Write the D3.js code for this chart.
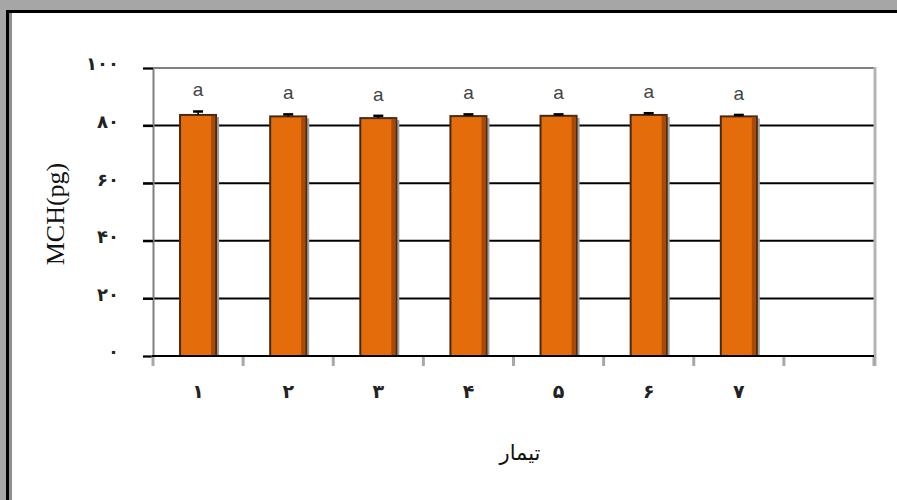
<!DOCTYPE html>
<html>
<head>
<meta charset="utf-8">
<script src="https://cdn.jsdelivr.net/npm/d3@7"></script>
<style>
  body { margin: 0; background: #a6a6a6; }
  svg { display: block; }
</style>
</head>
<body>
<script>
// treatments 1..7 (one empty slot at the end like the original)
const categories = ["۱", "۲", "۳", "۴", "۵", "۶", "۷"];
const values = [83.7, 83.2, 82.6, 83.3, 83.4, 83.7, 83.2];
const errors = [1.2, 0.7, 0.8, 0.6, 0.5, 0.6, 0.5];
const letters = ["a", "a", "a", "a", "a", "a", "a"];
const yTicks = [0, 20, 40, 60, 80, 100];

const W = 897, H = 500;
const margin = { left: 153, top: 68, right: 23, bottom: 144 };

const faDigits = "۰۱۲۳۴۵۶۷۸۹";
const toFa = n => String(n).replace(/\d/g, d => faDigits[+d]);

const svg = d3.select("body").append("svg")
    .attr("width", W)
    .attr("height", H);

// frame
svg.append("rect").attr("width", W).attr("height", H).attr("fill", "#a6a6a6");
svg.append("rect").attr("x", 6).attr("y", 10).attr("width", W).attr("height", H).attr("fill", "#000");
svg.append("rect").attr("x", 9).attr("y", 13).attr("width", W).attr("height", H).attr("fill", "#8f8f8f");
svg.append("rect").attr("x", 12).attr("y", 13).attr("width", W).attr("height", H).attr("fill", "#fff");

const x0 = margin.left, x1 = W - margin.right;
const y0 = H - margin.bottom, y1 = margin.top;

const slots = d3.range(categories.length + 1);
const x = d3.scaleBand()
    .domain(slots)
    .range([x0, x1])
    .paddingInner(0.6)
    .paddingOuter(0.3);
const step = x.step();

const y = d3.scaleLinear().domain([0, 100]).range([y0, y1]);

const g = svg.append("g");

// gridlines (black, with outside tick)
g.selectAll(".grid").data(yTicks.filter(t => t > 0 && t < 100))
  .join("line")
    .attr("x1", x0 - 10).attr("x2", x1)
    .attr("y1", d => y(d)).attr("y2", d => y(d))
    .attr("stroke", "#000").attr("stroke-width", 2);

// plot border
g.append("line").attr("x1", x0).attr("x2", x1).attr("y1", y1).attr("y2", y1)
    .attr("stroke", "#808080").attr("stroke-width", 2);
g.append("line").attr("x1", x1 + 1).attr("x2", x1 + 1).attr("y1", y1 - 1).attr("y2", y0 + 10)
    .attr("stroke", "#b5b5b5").attr("stroke-width", 3);

// y axis
const yAxis = d3.axisLeft(y).tickValues(yTicks).tickSize(10).tickPadding(24).tickFormat(toFa);
const ya = g.append("g").attr("transform", `translate(${x0},0)`).call(yAxis);
ya.select(".domain").attr("stroke", "#808080").attr("stroke-width", 2);
ya.selectAll(".tick line").attr("stroke", "#000").attr("stroke-width", 2);
ya.selectAll(".tick text")
    .attr("font-family", "DejaVu Sans")
    .attr("font-size", 18)
    .attr("font-weight", "bold")
    .attr("fill", "#222")
    .attr("dy", "0.1em");

// x category ticks at slot boundaries
const bounds = d3.range(slots.length + 1).map(i => x0 + i * step);
g.selectAll(".xt").data(bounds)
  .join("line")
    .attr("x1", d => d).attr("x2", d => d)
    .attr("y1", y0).attr("y2", y0 + 10)
    .attr("stroke", "#a8a8a8").attr("stroke-width", 3);

// bars: shadow + body
const bars = g.selectAll(".bar").data(values).join("g");
bars.append("rect")
    .attr("x", (d, i) => x(i) + 3)
    .attr("y", d => y(d) + 2)
    .attr("width", x.bandwidth())
    .attr("height", d => y0 - y(d) - 2)
    .attr("fill", "#a0a0a0");
bars.append("rect")
    .attr("x", (d, i) => x(i))
    .attr("y", d => y(d))
    .attr("width", x.bandwidth())
    .attr("height", d => y0 - y(d))
    .attr("fill", "#e46c0a")
    .attr("stroke", "#4a2a14")
    .attr("stroke-width", 2);
bars.append("rect")
    .attr("x", (d, i) => x(i) + x.bandwidth() - 5)
    .attr("y", d => y(d) + 1)
    .attr("width", 4)
    .attr("height", d => y0 - y(d) - 1)
    .attr("fill", "#a84a06");

// error bars
const cx = i => x(i) + x.bandwidth() / 2;
bars.append("line")
    .attr("x1", (d, i) => cx(i)).attr("x2", (d, i) => cx(i))
    .attr("y1", d => y(d)).attr("y2", (d, i) => y(d + errors[i]))
    .attr("stroke", "#000").attr("stroke-width", 1.5);
bars.append("line")
    .attr("x1", (d, i) => cx(i) - 5).attr("x2", (d, i) => cx(i) + 5)
    .attr("y1", (d, i) => y(d + errors[i])).attr("y2", (d, i) => y(d + errors[i]))
    .attr("stroke", "#000").attr("stroke-width", 2.5);

// significance letters
bars.append("text")
    .attr("x", (d, i) => cx(i))
    .attr("y", (d, i) => y(d + errors[i]) - 15)
    .attr("text-anchor", "middle")
    .attr("font-family", "Liberation Sans, Arial")
    .attr("font-size", 19)
    .attr("fill", "#444")
    .text((d, i) => letters[i]);

// x axis line
g.append("line").attr("x1", x0 - 1).attr("x2", x1).attr("y1", y0).attr("y2", y0)
    .attr("stroke", "#000").attr("stroke-width", 2);

// x labels
g.selectAll(".xl").data(categories)
  .join("text")
    .attr("x", (d, i) => cx(i))
    .attr("y", y0 + 42)
    .attr("text-anchor", "middle")
    .attr("font-family", "DejaVu Sans")
    .attr("font-size", 19)
    .attr("font-weight", "bold")
    .attr("fill", "#222")
    .text(d => d);

// axis titles
svg.append("text")
    .attr("x", 520).attr("y", 460)
    .attr("text-anchor", "middle")
    .attr("font-family", "DejaVu Sans")
    .attr("font-size", 21)
    .attr("fill", "#111")
    .text("تیمار");

svg.append("text")
    .attr("transform", "translate(64,214) rotate(-90)")
    .attr("text-anchor", "middle")
    .attr("font-family", "Liberation Serif, Times New Roman")
    .attr("font-size", 26)
    .attr("fill", "#111")
    .text("MCH(pg)");
</script>
</body>
</html>
